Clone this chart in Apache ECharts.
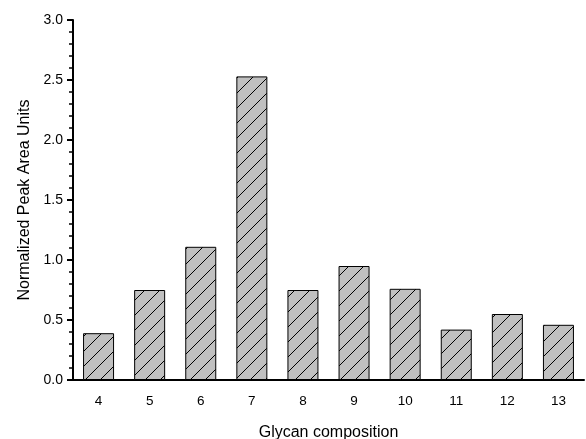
<!DOCTYPE html>
<html>
<head>
<meta charset="utf-8">
<script src="https://cdn.jsdelivr.net/npm/echarts@6/dist/echarts.min.js"></script>
<style>
  html, body { margin: 0; padding: 0; background: #fff; }
  #chart { width: 586px; height: 439px; }
</style>
</head>
<body>
<div id="chart"></div>
<script>
  const categories = ['4', '5', '6', '7', '8', '9', '10', '11', '12', '13'] // glycan composition
  const peakArea = [0.39, 0.75, 1.11, 2.53, 0.75, 0.95, 0.76, 0.42, 0.55, 0.46]

  // hatched fill: grey with diagonal lines
  function makeHatch() {
    const s = 15
    const c = document.createElement('canvas')
    c.width = s
    c.height = s
    const ctx = c.getContext('2d')
    ctx.fillStyle = '#c0c0c0'
    ctx.fillRect(0, 0, s, s)
    ctx.strokeStyle = '#000'
    ctx.lineWidth = 1
    ctx.beginPath()
    ctx.moveTo(0, s)
    ctx.lineTo(s, 0)
    ctx.moveTo(-2, 2)
    ctx.lineTo(2, -2)
    ctx.moveTo(s - 2, s + 2)
    ctx.lineTo(s + 2, s - 2)
    ctx.stroke()
    return c
  }

  const chart = echarts.init(document.getElementById('chart'))
  const font = 'Liberation Sans, Arial, sans-serif'

  chart.setOption({
    animation: false,
    grid: { left: 73, right: 2, top: 20, bottom: 59, containLabel: false, outerBoundsMode: 'none' },
    xAxis: {
      type: 'category',
      data: categories,
      name: 'Glycan composition',
      nameLocation: 'middle',
      nameGap: 45,
      nameTextStyle: { fontFamily: font, fontSize: 16, color: '#000' },
      axisLine: { lineStyle: { color: '#000', width: 2 } },
      axisTick: { alignWithLabel: true, length: 6, lineStyle: { color: '#000', width: 2 } },
      axisLabel: { fontFamily: font, fontSize: 13.5, color: '#000', margin: 14 },
      splitLine: { show: false }
    },
    yAxis: {
      type: 'value',
      min: 0,
      max: 3,
      interval: 0.5,
      name: 'Normalized Peak Area Units',
      nameLocation: 'middle',
      nameGap: 40,
      nameTextStyle: { fontFamily: font, fontSize: 16, color: '#000' },
      axisLine: { show: true, lineStyle: { color: '#000', width: 2 } },
      axisTick: { show: true, length: 6, lineStyle: { color: '#000', width: 2 } },
      minorTick: { show: true, splitNumber: 5, length: 4, lineStyle: { color: '#000', width: 1.5 } },
      axisLabel: {
        fontFamily: font, fontSize: 14, color: '#000', margin: 10,
        formatter: v => v.toFixed(1)
      },
      splitLine: { show: false }
    },
    series: [{
      type: 'bar',
      data: peakArea,
      barWidth: 31,
      itemStyle: {
        color: { image: makeHatch(), repeat: 'repeat' },
        borderColor: '#000',
        borderWidth: 1
      }
    }]
  })
</script>
</body>
</html>
